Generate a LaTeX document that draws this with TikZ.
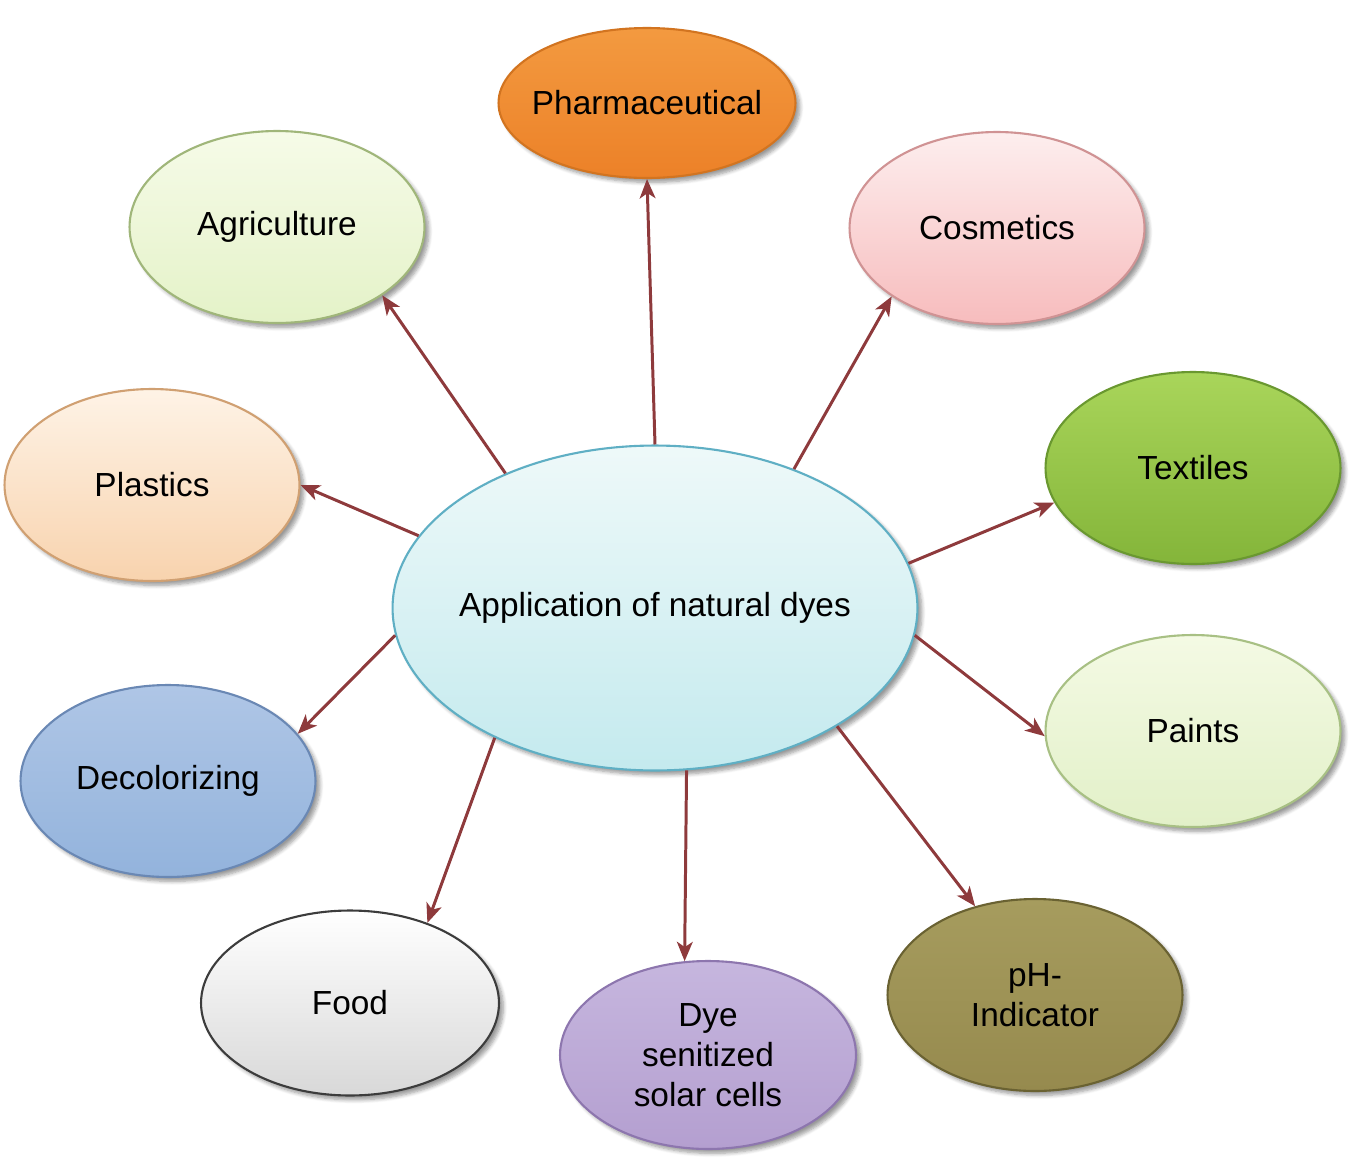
\documentclass[tikz,border=0pt]{standalone}
\usepackage{fontspec}
\setmainfont{Liberation Sans}
\usetikzlibrary{shapes.geometric,arrows.meta,shadows.blur}
\definecolor{arr}{HTML}{8E3A3C}
\definecolor{cD}{HTML}{5FAFC4}\definecolor{cT}{HTML}{EEF9F9}\definecolor{cB}{HTML}{C4EAEE}
\definecolor{phD}{HTML}{D27420}\definecolor{phT}{HTML}{F39A40}\definecolor{phB}{HTML}{EC8128}
\definecolor{agD}{HTML}{A0B67A}\definecolor{agT}{HTML}{F6FBE8}\definecolor{agB}{HTML}{E4F2C8}
\definecolor{coD}{HTML}{D09394}\definecolor{coT}{HTML}{FDEEEE}\definecolor{coB}{HTML}{F7BCBD}
\definecolor{plD}{HTML}{D0A072}\definecolor{plT}{HTML}{FEF3E6}\definecolor{plB}{HTML}{F8D3AE}
\definecolor{teD}{HTML}{6A9830}\definecolor{teT}{HTML}{A9D55A}\definecolor{teB}{HTML}{84B53A}
\definecolor{paD}{HTML}{A8C084}\definecolor{paT}{HTML}{F4FAE4}\definecolor{paB}{HTML}{E2F0C8}
\definecolor{deD}{HTML}{6A88B4}\definecolor{deT}{HTML}{AFC6E6}\definecolor{deB}{HTML}{93B3DC}
\definecolor{foD}{HTML}{3C3C3C}\definecolor{foB}{HTML}{D8D8D8}
\definecolor{dyD}{HTML}{8D76AE}\definecolor{dyT}{HTML}{C6B6DE}\definecolor{dyB}{HTML}{B49FD0}
\definecolor{piD}{HTML}{6A6232}\definecolor{piT}{HTML}{A69C5E}\definecolor{piB}{HTML}{968A4E}
\begin{document}
\begin{tikzpicture}[x=0.02cm,y=-0.02cm,
  bub/.style={ellipse,inner sep=0pt,minimum width=5.9cm,minimum height=3.84cm,
    line width=1.2pt,align=center,font=\fontsize{19}{22.7}\selectfont,
    blur shadow={shadow xshift=2.5pt,shadow yshift=-2.5pt,shadow blur steps=6,shadow opacity=40}},
  link/.style={draw=arr,line width=1.7pt,-{Stealth[length=11pt,width=9pt,inset=3pt]}}]
\useasboundingbox (0,0) rectangle (1363,1167);
\node[bub,minimum width=10.5cm,minimum height=6.5cm,draw=cD,
  top color=cT,bottom color=cB] (c) at (655,608) {\makebox[0pt]{Application of natural dyes}};
\node[bub,minimum width=5.94cm,minimum height=3.0cm,draw=phD,
  top color=phT,bottom color=phB] (ph) at (647,103) {\makebox[0pt]{Pharmaceutical}};
\node[bub,draw=agD,top color=agT,bottom color=agB] (ag) at (277,227) {\makebox[0pt]{Agriculture}};
\node[bub,draw=coD,top color=coT,bottom color=coB] (co) at (997,228) {\makebox[0pt]{Cosmetics}};
\node[bub,draw=plD,top color=plT,bottom color=plB] (pl) at (152,485) {\makebox[0pt]{Plastics}};
\node[bub,draw=teD,top color=teT,bottom color=teB] (te) at (1193,468) {\makebox[0pt]{Textiles}};
\node[bub,draw=paD,top color=paT,bottom color=paB] (pa) at (1193,731) {\makebox[0pt]{Paints}};
\node[bub,draw=deD,top color=deT,bottom color=deB] (de) at (168,781) {\makebox[0pt]{Decolorizing}};
\node[bub,minimum width=5.96cm,minimum height=3.7cm,draw=foD,
  top color=white,bottom color=foB] (fo) at (350,1003) {\makebox[0pt]{Food}};
\node[bub,minimum width=5.92cm,minimum height=3.76cm,draw=dyD,
  top color=dyT,bottom color=dyB] (dy) at (708,1055) {Dye\\senitized\\solar cells};
\node[bub,draw=piD,top color=piT,bottom color=piB] (pi) at (1035,995) {pH-\\Indicator};
\draw[link] (c.90) -- (ph.south);
\draw[link] (c.138) -- (ag.-33);
\draw[link] (c.45) -- (co.213);
\draw[link] (c.163) -- (pl.0);
\draw[link] (c.10) -- (te.194);
\draw[link] (c.-6) -- (pa.182);
\draw[link] (c.186) -- (de.20);
\draw[link] (c.219) -- (fo.46);
\draw[link] (c.-79.5) -- (dy.104);
\draw[link] (c.-33) -- (pi.124);
\end{tikzpicture}
\end{document}
